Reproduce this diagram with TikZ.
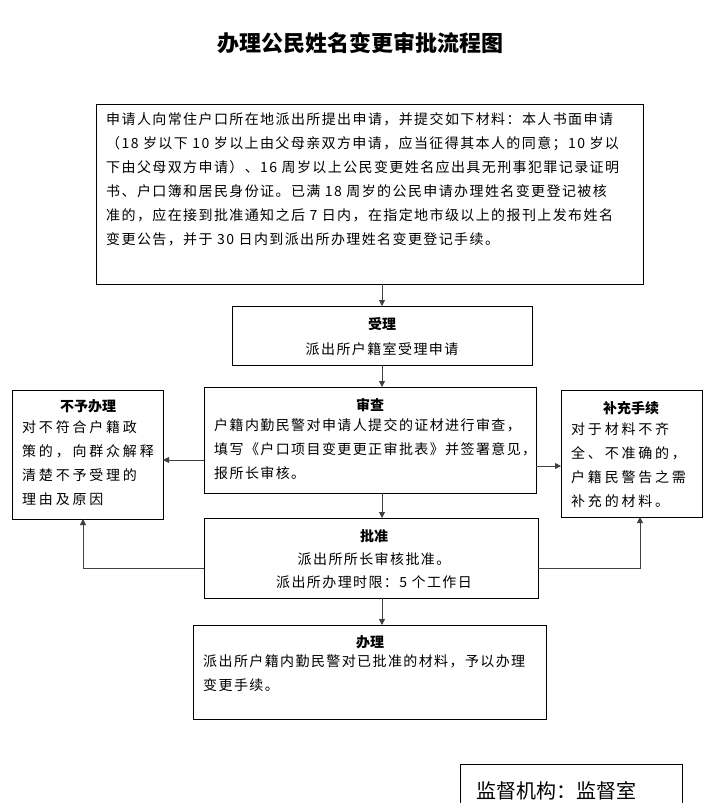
\documentclass[tikz,border=0pt]{standalone}
\usepackage{fontspec}
\setmainfont{Noto Sans CJK SC}
\newfontfamily\spA[LetterSpace=10]{Noto Sans CJK SC}
\newfontfamily\spB[LetterSpace=20]{Noto Sans CJK SC}
\usetikzlibrary{arrows.meta}
\begin{document}
\begin{tikzpicture}[x=1pt,y=-1pt,
  box/.style={draw,thick,inner sep=0pt},
  txt/.style={align=left,font=\fontsize{14}{24}\selectfont\spA,inner sep=0pt},
  stxt/.style={align=left,font=\fontsize{14}{24}\selectfont\spB,inner sep=0pt},
  hd/.style={font=\fontsize{14}{18}\selectfont\bfseries,inner sep=0pt},
  arr/.style={-{Triangle[length=6pt,width=6pt]},thick,draw=black!75}]
\useasboundingbox (0,0) rectangle (704,803);
\node[font=\fontsize{22}{26}\selectfont\bfseries] (title) at (360,43) {办理公民姓名变更审批流程图};
% boxes
\draw[box] (96,104) rectangle (643,284);
\node[txt,anchor=north west] (t1) at (106,112) {申请人向常住户口所在地派出所提出申请，并提交如下材料：本人书面申请\\（18 岁以下 10 岁以上由父母亲双方申请，应当征得其本人的同意；10 岁以\\下由父母双方申请）、16 周岁以上公民变更姓名应出具无刑事犯罪记录证明\\书、户口簿和居民身份证。已满 18 周岁的公民申请办理姓名变更登记被核\\准的，应在接到批准通知之后 7 日内，在指定地市级以上的报刊上发布姓名\\变更公告，并于 30 日内到派出所办理姓名变更登记手续。};
\draw[box] (232,306) rectangle (532,365);
\node[hd] (h2) at (382,324) {受理};
\node[txt] (t2) at (382,349) {派出所户籍室受理申请};
\draw[box] (204,387) rectangle (536,493);
\node[hd] (h3) at (370,405) {审查};
\node[txt,anchor=north west] (t3) at (214,418) {户籍内勤民警对申请人提交的证材进行审查，\\填写《户口项目变更更正审批表》并签署意见，\\报所长审核。};
\draw[box] (12,390) rectangle (163,519);
\node[hd] (h4) at (88,406) {不予办理};
\node[stxt,anchor=north west] (t4) at (22,420) {对不符合户籍政\\策的，向群众解释\\清楚不予受理的\\理由及原因};
\draw[box] (561,390) rectangle (702,517);
\node[hd] (h5) at (631,408) {补充手续};
\node[stxt,anchor=north west] (t5) at (571,422) {对于材料不齐\\全、不准确的，\\户籍民警告之需\\补充的材料。};
\draw[box] (204,518) rectangle (538,598);
\node[hd] (h6) at (374,536) {批准};
\node[txt] (t6a) at (374,559) {派出所所长审核批准。};
\node[txt] (t6b) at (374,582) {派出所办理时限：5 个工作日};
\draw[box] (193,625) rectangle (546,719);
\node[hd] (h7) at (370,642) {办理};
\node[txt,anchor=north west] (t7) at (203,654) {派出所户籍内勤民警对已批准的材料，予以办理\\变更手续。};
\draw[box] (460,764) rectangle (682,810);
\node[font=\fontsize{20}{24}\selectfont,inner sep=0pt,anchor=west] (t8) at (476,791) {监督机构：监督室};
% arrows
\draw[arr] (382,284) -- (382,306);
\draw[arr] (382,365) -- (382,387);
\draw[arr] (382,493) -- (382,518);
\draw[arr] (382,598) -- (382,625);
\draw[arr] (204,460) -- (163,460);
\draw[arr] (536,466) -- (561,466);
\draw[arr] (204,568) -- (83,568) -- (83,519);
\draw[arr] (538,568) -- (640,568) -- (640,517);
\end{tikzpicture}
\end{document}
